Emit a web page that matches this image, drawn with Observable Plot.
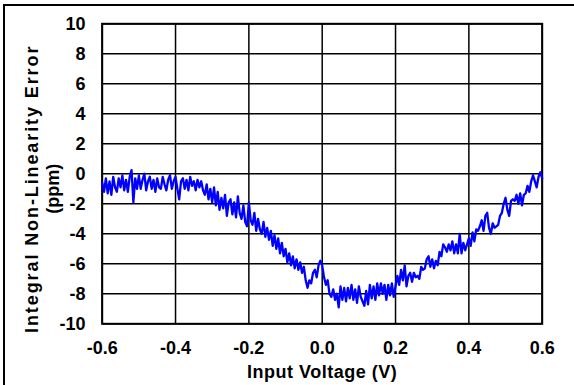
<!DOCTYPE html>
<html>
<head>
<meta charset="utf-8">
<script src="https://cdn.jsdelivr.net/npm/d3@7"></script>
<script src="https://cdn.jsdelivr.net/npm/@observablehq/plot@0.6"></script>
<style>
  html, body { margin: 0; padding: 0; background: #fff; }
  #wrap { position: relative; width: 574px; height: 385px; overflow: hidden; }
  #edge { position: absolute; left: 3px; top: 4px; right: -10px; bottom: -10px;
          border-left: 2px solid #000; border-top: 2px solid #000; pointer-events: none; }
</style>
</head>
<body>
<div id="wrap"><div id="chart"></div><div id="edge"></div></div>
<script>
// ---- data ----
const xStart = -0.6;
const xStep = 0.005;
const inlValues = [
  -0.6, -1.2, -0.3, -1.3, -0.5, -1.4, -0.2, -0.9, -1.2, -0.3,
  -0.9, -0.1, -1.1, -0.4, -1.2, -0.2, 0.25, -1.9, -0.3, -1.0,
  -0.1, -1.0, -0.4, 0.0, -1.1, -0.5, -0.2, -1.0, -0.4, -1.2,
  -0.3, -0.9, -1.0, -0.2, -0.7, -1.1, -0.4, -0.1, -1.0, -0.5,
  -0.2, -1.0, -1.7, -0.5, -0.3, -1.0, -0.4, -1.1, -0.2, -0.8,
  -0.5, -1.1, -0.4, -0.9, -0.5, -1.1, -1.4, -0.7, -1.7, -1.0,
  -1.9, -0.9, -2.1, -1.2, -2.4, -1.6, -2.3, -1.4, -2.8, -1.9,
  -1.7, -2.7, -1.9, -2.9, -1.5, -2.6, -3.0, -2.1, -3.2, -3.5,
  -1.9, -3.1, -3.4, -2.6, -3.8, -3.0, -3.7, -4.0, -3.2, -4.2,
  -3.6, -4.4, -3.8, -4.8, -4.1, -5.0, -4.3, -5.3, -4.6, -5.5,
  -5.0, -5.9, -5.3, -6.1, -5.5, -6.3, -5.7, -6.4, -5.9, -6.6,
  -6.2, -7.1, -7.6, -7.1, -7.3, -6.6, -6.4, -6.9, -6.1, -5.8,
  -6.1, -6.9, -7.4, -7.1, -8.0, -8.2, -7.7, -8.4, -8.0, -8.9,
  -7.5, -8.4, -7.6, -8.5, -7.6, -8.3, -7.4, -8.4, -7.7, -8.6,
  -7.5, -8.2, -8.5, -8.8, -7.8, -8.7, -7.4, -8.3, -7.5, -8.4,
  -7.3, -8.1, -7.3, -8.0, -7.4, -8.4, -7.4, -8.1, -7.3, -8.2,
  -7.5, -6.8, -7.4, -6.4, -7.1, -6.1, -7.5, -6.8, -6.6, -7.2,
  -6.6, -6.9, -6.8, -7.0, -6.2, -6.4, -6.3, -5.7, -5.5, -6.2,
  -5.7, -6.3, -5.8, -6.1, -5.2, -5.5, -4.7, -4.9, -5.2, -4.7,
  -5.1, -4.5, -5.3, -4.7, -5.3, -4.0, -5.3, -4.6, -5.1, -4.7,
  -4.3, -4.8, -3.9, -4.5, -3.7, -3.8, -3.5, -3.1, -3.8, -2.8,
  -2.6, -3.6, -4.0, -3.3, -3.6, -3.5, -3.4, -2.8, -2.6, -2.0,
  -1.6, -2.4, -2.8, -1.8, -1.7, -1.8, -1.4, -2.0, -1.3, -2.1,
  -1.4, -1.3, -0.8, -1.2, -0.5, -0.1, -0.5, -0.9, -0.2, 0.1,
  -0.3
];
const xTicks = [-0.6, -0.4, -0.2, 0, 0.2, 0.4, 0.6];
const xTickLabels = ["-0.6", "-0.4", "-0.2", "0.0", "0.2", "0.4", "0.6"];
const yTicks = [-10, -8, -6, -4, -2, 0, 2, 4, 6, 8, 10];
const yTickLabels = ["-10", "-8", "-6", "-4", "-2", "0", "2", "4", "6", "8", "10"];
const xTitle = "Input Voltage (V)";
const yTitle1 = "Integral Non-Linearity Error";
const yTitle2 = "(ppm)";

// ---- build ----
const data = inlValues.map((v, i) => ({ x: +(xStart + i * xStep).toFixed(3), v }));
const font = "'Liberation Sans', Arial, sans-serif";

const chart = Plot.plot({
  width: 574,
  height: 385,
  marginLeft: 101.7,
  marginRight: 32.3,
  marginTop: 23.3,
  marginBottom: 61.7,
  x: { domain: [-0.6, 0.6] },
  y: { domain: [-10, 10] },
  style: { fontFamily: font, fontWeight: "bold", fontSize: "18px", background: "#fff", color: "#000" },
  marks: [
    Plot.gridX(xTicks, { stroke: "#000", strokeOpacity: 1, strokeWidth: 1.5 }),
    Plot.gridY(yTicks, { stroke: "#000", strokeOpacity: 1, strokeWidth: 1.5 }),
    Plot.frame({ stroke: "#000", strokeWidth: 2 }),
    Plot.line(data, { x: "x", y: "v", stroke: "#0000ff", strokeWidth: 2.3 }),
    Plot.axisX(xTicks, { tickSize: 0, tickPadding: 17.5, label: null, fontSize: 18,
      tickFormat: (d) => xTickLabels[xTicks.indexOf(d)] }),
    Plot.axisY(yTicks, { tickSize: 0, tickPadding: 16.7, label: null, fontSize: 18,
      tickFormat: (d) => yTickLabels[yTicks.indexOf(d)] }),
    Plot.text([xTitle], { frameAnchor: "bottom", dy: 48.7, text: (d) => d, fontSize: 18, fontWeight: "bold", lineAnchor: "middle", textAnchor: "middle" }),
    Plot.text([yTitle1], { frameAnchor: "left", rotate: -90, dx: -69.7, dy: 15, text: (d) => d, fontSize: 18, fontWeight: "bold", lineAnchor: "middle", textAnchor: "middle" }),
    Plot.text([yTitle2], { frameAnchor: "left", rotate: -90, dx: -49, dy: 15, text: (d) => d, fontSize: 18, fontWeight: "bold", lineAnchor: "middle", textAnchor: "middle" })
  ]
});
// widen the titles slightly to match the reference's letter widths
chart.querySelectorAll("text").forEach((t) => {
  if (t.textContent === yTitle1) t.setAttribute("letter-spacing", "1.9");
  else if (t.textContent === xTitle) t.setAttribute("letter-spacing", "0.5");
});
document.getElementById("chart").appendChild(chart);
</script>
</body>
</html>
